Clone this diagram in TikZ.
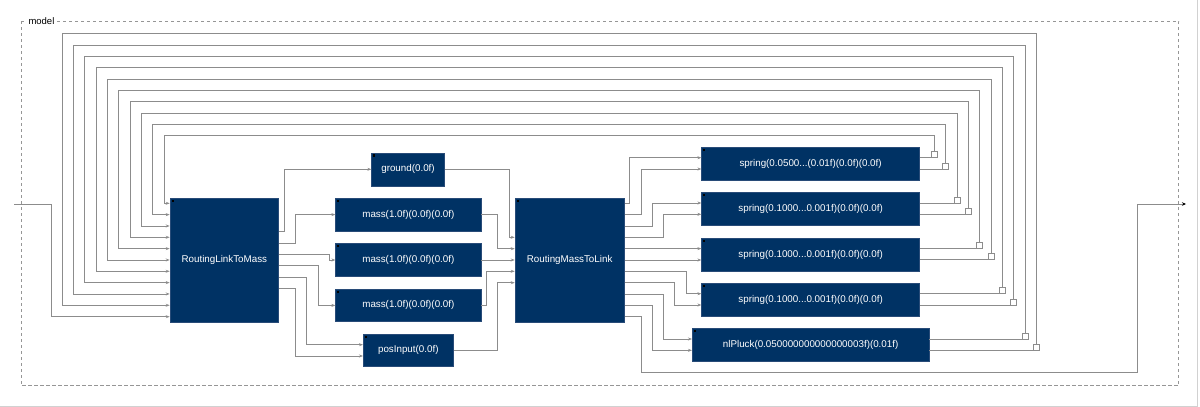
\documentclass[tikz,border=0pt]{standalone}
\usepackage{fontspec}
\setmainfont{Liberation Sans}
\usetikzlibrary{arrows.meta,calc}
\definecolor{blk}{RGB}{0,50,100}
\definecolor{blkedge}{RGB}{40,75,120}
\definecolor{wire}{RGB}{140,140,140}
\definecolor{frm}{RGB}{150,150,150}
\begin{document}
\begin{tikzpicture}[x=1pt,y=-1pt,
  block/.style={draw=blkedge, line width=0.6pt, fill=blk, text=white, inner sep=0pt,
    font=\fontsize{9.8}{12}\selectfont},
  wire/.style={draw=wire, line width=0.8pt},
  arr/.style={wire, -{Stealth[length=4pt,width=3pt]}},
  portbox/.style={draw=wire, fill=white, line width=0.7pt}]
\useasboundingbox (0,0) rectangle (1200,407);
% outer frame
\draw[black!18, line width=0.8pt] (0,406.3) -- (1197.7,406.3) -- (1197.7,0);
% model subsystem frame
\draw[frm, line width=0.8pt, dash pattern=on 3.3pt off 2.7pt] (21,21) rectangle (1178.7,385.7);
\node[fill=white, inner sep=1.5pt, anchor=west, font=\fontsize{9.5}{11}\selectfont] (mlabel) at (26.8,21) {model};

% blocks
\node[block, minimum width=108.7pt, minimum height=123.7pt] (rltm) at (224.35,260.15) {RoutingLinkToMass};
\node[block, minimum width=109.3pt, minimum height=123.7pt] (rmtl) at (569.65,260.15) {RoutingMassToLink};
\node[block, minimum width=72.6pt, minimum height=33pt] (ground) at (408,169.3) {ground(0.0f)};
\node[block, minimum width=145.3pt, minimum height=32.7pt] (mass1) at (408.35,214.6) {mass(1.0f)(0.0f)(0.0f)};
\node[block, minimum width=145.3pt, minimum height=32.7pt] (mass2) at (408.35,260) {mass(1.0f)(0.0f)(0.0f)};
\node[block, minimum width=145.3pt, minimum height=32.7pt] (mass3) at (408.35,305.4) {mass(1.0f)(0.0f)(0.0f)};
\node[block, minimum width=90pt, minimum height=32.7pt] (posin) at (408.3,350.4) {posInput(0.0f)};
\node[block, minimum width=217.8pt, minimum height=33pt] (s0) at (810.6,163.9) {spring(0.0500...(0.01f)(0.0f)(0.0f)};
\node[block, minimum width=217.8pt, minimum height=33pt] (s1) at (810.6,209.2) {spring(0.1000...0.001f)(0.0f)(0.0f)};
\node[block, minimum width=217.8pt, minimum height=33pt] (s2) at (810.6,254.5) {spring(0.1000...0.001f)(0.0f)(0.0f)};
\node[block, minimum width=217.8pt, minimum height=33pt] (s3) at (810.6,299.9) {spring(0.1000...0.001f)(0.0f)(0.0f)};
\node[block, minimum width=236.7pt, minimum height=33pt] (s4) at (810.65,345.2) {nlPluck(0.050000000000000003f)(0.01f)};

\foreach \b in {rltm,rmtl,ground,mass1,mass2,mass3,posin,s0,s1,s2,s3,s4}
  \fill[black] ($(\b.north west)+(1.8,1.8)$) rectangle +(2.2,2.2);

% external input and output
\coordinate (inport) at (14,204);
\coordinate (outport) at (1186,204);
\draw[arr] (inport) -- (51,204) -- (51,316.7) -- (rltm.west |- 0,316.7);

% RoutingLinkToMass -> mechanical blocks
\draw[arr] (rltm.east |- 0,231.7) -- (284,231.7) -- (284,169.3) -- (ground.west);
\draw[arr] (rltm.east |- 0,243) -- (295,243) -- (295,214.6) -- (mass1.west);
\draw[arr] (rltm.east |- 0,254.3) -- (329.3,254.3) -- (329.3,260) -- (mass2.west);
\draw[arr] (rltm.east |- 0,265.7) -- (318.3,265.7) -- (318.3,305.4) -- (mass3.west);
\draw[arr] (rltm.east |- 0,277) -- (306.7,277) -- (306.7,344.7) -- (posin.west |- 0,344.7);
\draw[arr] (rltm.east |- 0,288.3) -- (295,288.3) -- (295,356) -- (posin.west |- 0,356);

% mechanical blocks -> RoutingMassToLink
\draw[arr] (ground.east) -- (509.3,169.3) -- (509.3,237.3) -- (rmtl.west |- 0,237.3);
\draw[arr] (mass1.east) -- (497.7,214.6) -- (497.7,248.7) -- (rmtl.west |- 0,248.7);
\draw[arr] (mass2.east) -- (rmtl.west |- 0,260);
\draw[arr] (mass3.east) -- (486.7,305.4) -- (486.7,271.3) -- (rmtl.west |- 0,271.3);
\draw[arr] (posin.east) -- (497.7,350.4) -- (497.7,282.7) -- (rmtl.west |- 0,282.7);

% RoutingMassToLink -> links
\draw[arr] (rmtl.east |- 0,203.3) -- (629.3,203.3) -- (629.3,157.7) -- (s0.west |- 0,157.7);
\draw[arr] (rmtl.east |- 0,214.7) -- (641.7,214.7) -- (641.7,169.0) -- (s0.west |- 0,169.0);
\draw[arr] (rmtl.east |- 0,226.0) -- (652.3,226.0) -- (652.3,203.0) -- (s1.west |- 0,203.0);
\draw[arr] (rmtl.east |- 0,237.3) -- (663.7,237.3) -- (663.7,214.3) -- (s1.west |- 0,214.3);
\draw[arr] (rmtl.east |- 0,248.6) -- (s2.west |- 0,248.6);
\draw[arr] (rmtl.east |- 0,260.0) -- (s2.west |- 0,260.0);
\draw[arr] (rmtl.east |- 0,271.3) -- (686.0,271.3) -- (686.0,293.7) -- (s3.west |- 0,293.7);
\draw[arr] (rmtl.east |- 0,282.7) -- (674.7,282.7) -- (674.7,305.0) -- (s3.west |- 0,305.0);
\draw[arr] (rmtl.east |- 0,294.0) -- (663.7,294.0) -- (663.7,339.0) -- (s4.west |- 0,339.0);
\draw[arr] (rmtl.east |- 0,305.3) -- (652.3,305.3) -- (652.3,350.3) -- (s4.west |- 0,350.3);
\draw[wire, -{Stealth[length=4pt,width=3.5pt,color=black]}] (rmtl.east |- 0,316.7) -- (641.7,316.7) -- (641.7,372.7) -- (1137.5,372.7) -- (1137.5,204) -- (outport);

% feedback links -> RoutingLinkToMass
\foreach \n in {0,...,9} {
  \pgfmathtruncatemacro{\bi}{floor(\n/2)}
  \pgfmathtruncatemacro{\bj}{mod(\n,2)}
  \pgfmathsetmacro{\yo}{157.7+45.33*\bi+11.33*\bj}
  \pgfmathsetmacro{\xr}{934.3+11.33*\n}
  \pgfmathsetmacro{\yt}{135.7-11.33*\n}
  \pgfmathsetmacro{\xl}{164-11.33*\n}
  \pgfmathsetmacro{\yi}{203.3+11.33*\n}
  \draw[arr] (s\bi.east |- 0,\yo) -- (\xr,\yo) -- (\xr,\yt) -- (\xl,\yt) -- (\xl,\yi) -- (rltm.west |- 0,\yi);
  \draw[portbox] (\xr-3,\yo) rectangle (\xr+3,\yo-6);
}
\end{tikzpicture}
\end{document}
